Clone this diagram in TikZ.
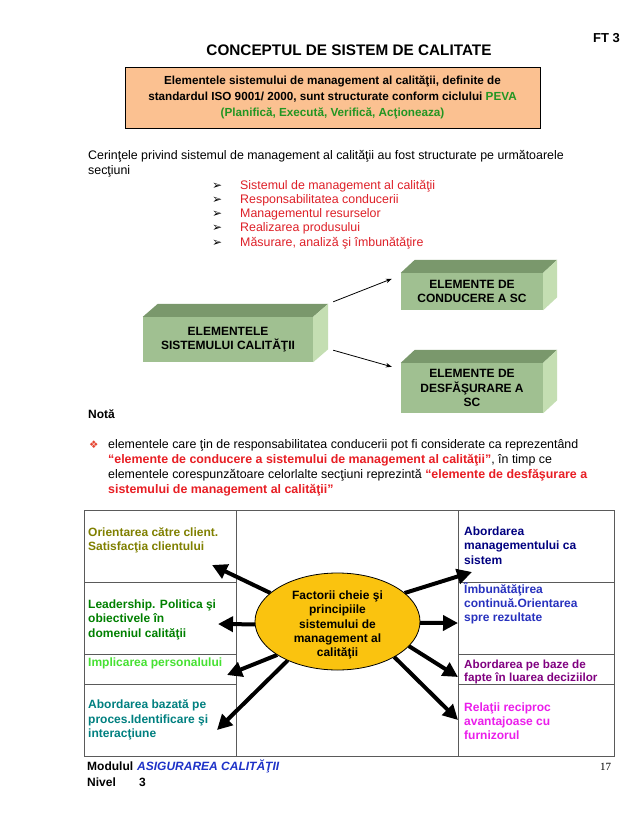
\documentclass[tikz,border=0pt]{standalone}
\usepackage{fontspec}
\setmainfont{Liberation Sans}
\newfontfamily\djv{DejaVu Sans}
\newfontfamily\lsr{Liberation Serif}
\usetikzlibrary{arrows.meta,shapes.geometric}
\definecolor{orangebox}{RGB}{251,193,145}
\definecolor{pevagreen}{RGB}{34,150,34}
\definecolor{listred}{RGB}{222,32,40}
\definecolor{quotered}{RGB}{232,30,36}
\definecolor{boxfront}{RGB}{160,192,145}
\definecolor{boxtop}{RGB}{122,152,108}
\definecolor{boxside}{RGB}{196,222,178}
\definecolor{olivet}{RGB}{128,128,0}
\definecolor{darkgreent}{RGB}{0,128,0}
\definecolor{limet}{RGB}{70,225,50}
\definecolor{tealt}{RGB}{0,128,128}
\definecolor{navyt}{RGB}{0,0,128}
\definecolor{bluet}{RGB}{40,50,190}
\definecolor{purplet}{RGB}{128,0,128}
\definecolor{magentat}{RGB}{235,30,235}
\definecolor{goldfill}{RGB}{250,195,15}
\definecolor{footblue}{RGB}{30,50,200}
\definecolor{tablegray}{RGB}{90,90,90}
\definecolor{diamondred}{RGB}{230,70,50}
\begin{document}
\begin{tikzpicture}[x=1pt,y=-1pt,
  tx/.style={anchor=base west,inner sep=0pt,font=\fontsize{12.4}{14}\selectfont},
  bx/.style={anchor=base west,inner sep=0pt,font=\fontsize{12}{14.5}\selectfont\bfseries},
  arrowbul/.style={anchor=base west,inner sep=0pt,font=\djv\fontsize{12}{14}\selectfont},
  face/.style={fill=boxfront,inner sep=0pt},
  boxtext/.style={align=center,inner sep=0pt,font=\fontsize{12}{14.5}\selectfont\bfseries},
  thinarrow/.style={line width=0.8pt,-{Stealth[length=6pt,width=4.5pt]}},
  thickarrow/.style={line width=4pt,-{Triangle[length=15pt,width=15pt]}},
  tabline/.style={draw=tablegray,line width=0.8pt}]
\useasboundingbox (0,0) rectangle (638,826);
\fill[white] (0,0) rectangle (638,826);

% header
\node[anchor=base east,inner sep=0pt,font=\fontsize{13}{15}\selectfont\bfseries] (ft) at (620,43) {FT 3};
\node[anchor=base,inner sep=0pt,font=\fontsize{15.3}{17}\selectfont\bfseries] (title) at (349,56) {CONCEPTUL DE SISTEM DE CALITATE};

% orange box
\node[draw,line width=0.8pt,fill=orangebox,minimum width=415pt,minimum height=61pt,inner sep=0pt,
      align=center,font=\fontsize{11.7}{16}\selectfont\bfseries] (iso) at (332.5,97.5)
  {Elementele sistemului de management al calităţii, definite de\\
   standardul ISO 9001/ 2000, sunt structurate conform ciclului \textcolor{pevagreen}{PEVA}\\
   \textcolor{pevagreen}{(Planifică, Execută, Verifică, Acţioneaza)}};

% paragraph
\node[tx] (p1) at (88,160) {Cerinţele privind sistemul de management al calităţii au fost structurate  pe următoarele};
\node[tx] (p2) at (88,175) {secţiuni};

% list
\node[arrowbul] (a1) at (212,190) {➢};
\node[arrowbul] (a2) at (212,204) {➢};
\node[arrowbul] (a3) at (212,218) {➢};
\node[arrowbul] (a4) at (212,232) {➢};
\node[arrowbul] (a5) at (212,246) {➢};
\node[tx,text=listred] (l1) at (240,190) {Sistemul de management al calităţii};
\node[tx,text=listred] (l2) at (240,204) {Responsabilitatea conducerii};
\node[tx,text=listred] (l3) at (240,218) {Managementul resurselor};
\node[tx,text=listred] (l4) at (240,232) {Realizarea produsului};
\node[tx,text=listred] (l5) at (240,246) {Măsurare, analiză şi îmbunătăţire};

% 3D boxes
\node[face,minimum width=170pt,minimum height=45pt] (lbox) at (228,339.5) {};
\fill[boxtop] (lbox.north west) -- ++(15,-13) -- ([shift={(15,-13)}]lbox.north east) -- (lbox.north east) -- cycle;
\fill[boxside] (lbox.north east) -- ++(15,-13) -- ([shift={(15,-13)}]lbox.south east) -- (lbox.south east) -- cycle;
\node[boxtext] (ltxt) at (lbox) {ELEMENTELE\\SISTEMULUI CALITĂŢII};

\node[face,minimum width=142pt,minimum height=37pt] (rtop) at (472,291.5) {};
\fill[boxtop] (rtop.north west) -- ++(14,-13) -- ([shift={(14,-13)}]rtop.north east) -- (rtop.north east) -- cycle;
\fill[boxside] (rtop.north east) -- ++(14,-13) -- ([shift={(14,-13)}]rtop.south east) -- (rtop.south east) -- cycle;
\node[boxtext] (rttxt) at (rtop) {ELEMENTE DE\\CONDUCERE A SC};

\node[face,minimum width=142pt,minimum height=50pt] (rbot) at (472,388) {};
\fill[boxtop] (rbot.north west) -- ++(14,-13) -- ([shift={(14,-13)}]rbot.north east) -- (rbot.north east) -- cycle;
\fill[boxside] (rbot.north east) -- ++(14,-13) -- ([shift={(14,-13)}]rbot.south east) -- (rbot.south east) -- cycle;
\node[boxtext] (rbtxt) at (rbot) {ELEMENTE DE\\DESFĂŞURARE A\\SC};

\draw[thinarrow] ([shift={(20,-15)}]lbox.north east) -- ([shift={(-9,6)}]rtop.north west);
\draw[thinarrow] ([shift={(20,-12)}]lbox.south east) -- ([shift={(-9,4)}]rbot.north west);

% note
\node[bx] (nota) at (88,418) {Notă};
\node[arrowbul,font=\djv\fontsize{10.5}{12}\selectfont,text=diamondred] (dia) at (89,448) {❖};
\node[tx] (n1) at (108,448) {elementele care ţin de responsabilitatea conducerii pot fi considerate ca reprezentând};
\node[tx] (n2) at (108,463) {\textcolor{quotered}{\bfseries “elemente de conducere a sistemului de management al calităţii”},  în timp ce};
\node[tx] (n3) at (108,478) {elementele corespunzătoare celorlalte secţiuni reprezintă \textcolor{quotered}{\bfseries “elemente de desfăşurare a}};
\node[tx] (n4) at (108,493) {\textcolor{quotered}{\bfseries sistemului de management al calităţii”}};

% table
\node[tabline,minimum width=530pt,minimum height=246pt,inner sep=0pt] (tab) at (349,633) {};
\draw[tabline] (236,510) -- (236,756);
\draw[tabline] (458,510) -- (458,756);
\draw[tabline] (84,582) -- (236,582);
\draw[tabline] (84,654) -- (236,654);
\draw[tabline] (84,684) -- (236,684);
\draw[tabline] (458,582) -- (614,582);
\draw[tabline] (458,654) -- (614,654);
\draw[tabline] (458,684) -- (614,684);

% left cells
\node[bx,text=olivet] (c1a) at (88,536) {Orientarea către client.};
\node[bx,text=olivet] (c1b) at (88,550) {Satisfacţia clientului};
\node[bx,text=darkgreent] (c2a) at (88,608) {Leadership. Politica şi};
\node[bx,text=darkgreent] (c2b) at (88,622) {obiectivele  în};
\node[bx,text=darkgreent] (c2c) at (88,637) {domeniul calităţii};
\node[bx,text=limet] (c3a) at (88,666) {Implicarea personalului};
\node[bx,text=tealt] (c4a) at (88,708) {Abordarea bazată pe};
\node[bx,text=tealt] (c4b) at (88,723) {proces.Identificare şi};
\node[bx,text=tealt] (c4c) at (88,737) {interacţiune};

% right cells
\node[bx,text=navyt] (d1a) at (464,535) {Abordarea};
\node[bx,text=navyt] (d1b) at (464,549) {managementului ca};
\node[bx,text=navyt] (d1c) at (464,564) {sistem};
\node[bx,text=bluet] (d2a) at (464,593) {Îmbunătăţirea};
\node[bx,text=bluet] (d2b) at (464,607) {continuă.Orientarea};
\node[bx,text=bluet] (d2c) at (464,621) {spre rezultate};
\node[bx,text=purplet,font=\fontsize{11.7}{14.5}\selectfont\bfseries] (d3a) at (464,668) {Abordarea pe baze de};
\node[bx,text=purplet,font=\fontsize{11.7}{14.5}\selectfont\bfseries] (d3b) at (464,681) {fapte în luarea deciziilor};
\node[bx,text=magentat] (d4a) at (464,711) {Relaţii reciproc};
\node[bx,text=magentat] (d4b) at (464,725) {avantajoase cu};
\node[bx,text=magentat] (d4c) at (464,739) {furnizorul};

% arrows from ellipse
\coordinate (fact0) at (337.5,621.5);
\node[ellipse,minimum width=165pt,minimum height=97pt,inner sep=0pt] (factshape) at (fact0) {};
\coordinate (tL1) at (212,565);
\coordinate (tL2) at (218,624);
\coordinate (tL3) at (227,675);
\coordinate (tL4) at (217,730);
\coordinate (tR1) at (472,572);
\coordinate (tR2) at (458,623);
\coordinate (tR3) at (458,677);
\coordinate (tR4) at (458,720);
\draw[thickarrow] (factshape.157) -- (tL1);
\draw[thickarrow] (factshape.182) -- (tL2);
\draw[thickarrow] (factshape.209) -- (tL3);
\draw[thickarrow] (factshape.218) -- (tL4);
\draw[thickarrow] (factshape.23) -- (tR1);
\draw[thickarrow] (factshape.359) -- (tR2);
\draw[thickarrow] (factshape.341) -- (tR3);
\draw[thickarrow] (factshape.328) -- (tR4);
\node[ellipse,draw,line width=0.8pt,fill=goldfill,minimum width=165pt,minimum height=97pt,inner sep=0pt] (fact) at (fact0) {};
\node[align=center,inner sep=0pt,font=\fontsize{12}{14.3}\selectfont\bfseries] (facttxt) at (337.5,625)
  {Factorii cheie şi\\principiile\\sistemului de\\management al\\calităţii};

% footer
\node[bx] (mod) at (87,770) {Modulul};
\node[bx,text=footblue,font=\fontsize{12}{14.5}\selectfont\bfseries\itshape] (modn) at (137,770) {ASIGURAREA CALITĂŢII};
\node[bx] (niv) at (87,786) {Nivel};
\node[bx] (nivn) at (139,786) {3};
\node[anchor=base west,inner sep=0pt,font=\lsr\fontsize{11}{13}\selectfont] (pg) at (600,770) {17};
\end{tikzpicture}
\end{document}
